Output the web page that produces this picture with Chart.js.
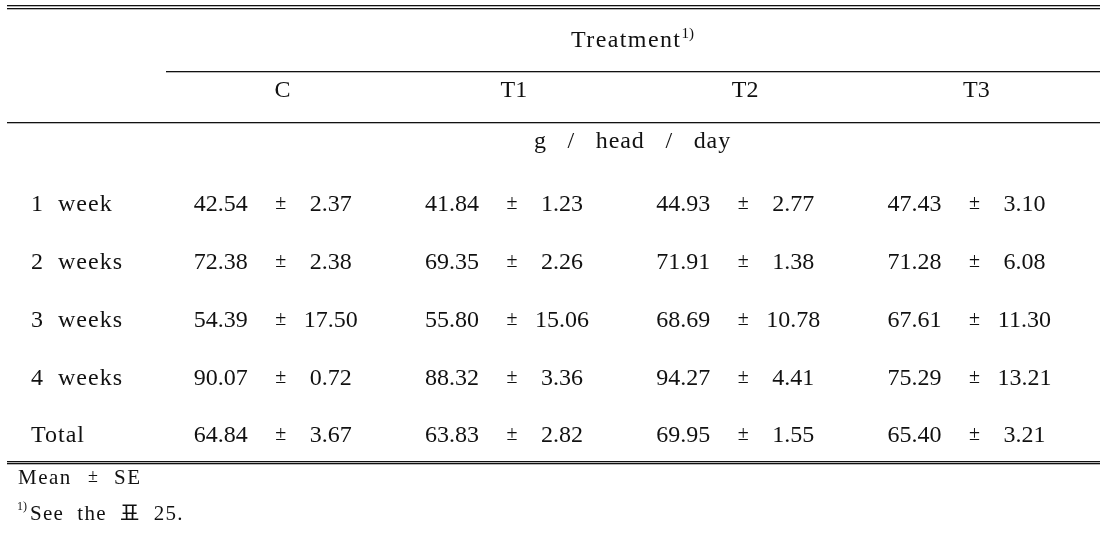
<!DOCTYPE html>
<html><head><meta charset="utf-8">
<script src="https://cdn.jsdelivr.net/npm/chart.js@4/dist/chart.umd.min.js"></script>
<style>html,body{margin:0;padding:0;background:#fff;overflow:hidden}#wrap{width:1111px;height:541px;position:relative}</style>
</head><body><div id="wrap"><canvas id="c" width="1111" height="541"></canvas></div>
<script>
// ---- data ----
const treatments = ['C', 'T1', 'T2', 'T3'];
const periods = ['1  week', '2  weeks', '3  weeks', '4  weeks', 'Total'];
const meanC  = [42.54, 72.38, 54.39, 90.07, 64.84];
const seC    = [2.37, 2.38, 17.50, 0.72, 3.67];
const meanT1 = [41.84, 69.35, 55.80, 88.32, 63.83];
const seT1   = [1.23, 2.26, 15.06, 3.36, 2.82];
const meanT2 = [44.93, 71.91, 68.69, 94.27, 69.95];
const seT2   = [2.77, 1.38, 10.78, 4.41, 1.55];
const meanT3 = [47.43, 71.28, 67.61, 75.29, 65.40];
const seT3   = [3.10, 6.08, 11.30, 13.21, 3.21];
const headerTitle = 'Treatment';
const unitLabel = 'g   /   head   /   day';
const noteSE = 'Mean';
const noteRef = 'See  the  표  25.';

const means = [meanC, meanT1, meanT2, meanT3];
const ses = [seC, seT1, seT2, seT3];

// ---- layout (row units on the y scale; px offsets on x) ----
const SERIF = '"Liberation Serif", "Times New Roman", "Noto Sans CJK KR", serif';
const L = {
  tableLeft: 7, tableRight: 1100,
  rule1: -3.43, rule2: -3.375, ruleTreat: -2.285, ruleHead: -1.398, ruleBot1: 4.475, ruleBot2: 4.51,
  treatBase: -2.70, colBase: -1.835, unitBase: -0.955, rowBaseOff: 8.5,
  noteBase1: 4.87, noteBase2: 5.49,
  meanOff: -60, seOff: 50, labelX: 31
};

const tablePlugin = {
  id: 'tablePlugin',
  afterDraw(chart) {
    const ctx = chart.ctx, xs = chart.scales.x, ys = chart.scales.y;
    const Y = v => ys.getPixelForValue(v);
    ctx.save();
    ctx.fillStyle = '#111';
    const rule = (v, x0, x1) => ctx.fillRect(x0, Math.round(Y(v)), x1 - x0, 1.3);
    rule(L.rule1, L.tableLeft, L.tableRight);
    rule(L.rule2, L.tableLeft, L.tableRight);
    rule(L.ruleTreat, xs.left + 1, L.tableRight);
    rule(L.ruleHead, L.tableLeft, L.tableRight);
    rule(L.ruleBot1, L.tableLeft, L.tableRight);
    rule(L.ruleBot2, L.tableLeft, L.tableRight);

    ctx.textBaseline = 'alphabetic';
    // Treatment header with superscript
    ctx.font = '24px ' + SERIF;
    ctx.letterSpacing = '1.4px';
    const tw = ctx.measureText(headerTitle).width;
    ctx.font = '15px ' + SERIF;
    ctx.letterSpacing = '0px';
    const sw = ctx.measureText('1)').width;
    const cx = (xs.left + L.tableRight) / 2;
    let x0 = cx - (tw + sw) / 2;
    ctx.textAlign = 'left';
    ctx.font = '24px ' + SERIF;
    ctx.letterSpacing = '1.4px';
    ctx.fillText(headerTitle, x0, Y(L.treatBase));
    ctx.letterSpacing = '0px';
    ctx.font = '15px ' + SERIF;
    ctx.fillText('1)', x0 + tw, Y(L.treatBase) - 9);

    // column headers
    ctx.font = '24px ' + SERIF;
    ctx.textAlign = 'center';
    treatments.forEach((t, i) => {
      ctx.fillText(t, xs.getPixelForValue(i) + 2, Y(L.colBase));
    });
    // unit row
    ctx.letterSpacing = '0.9px';
    ctx.fillText(unitLabel, cx, Y(L.unitBase));

    // body
    periods.forEach((p, r) => {
      const yb = Y(r) + L.rowBaseOff;
      ctx.textAlign = 'left';
      ctx.letterSpacing = '1px';
      ctx.font = '24px ' + SERIF;
      ctx.fillText(p, L.labelX, yb);
      ctx.letterSpacing = '0px';
      treatments.forEach((t, c) => {
        const xc = xs.getPixelForValue(c);
        ctx.textAlign = 'center';
        ctx.font = '24px ' + SERIF;
        ctx.fillText(means[c][r].toFixed(2), xc + L.meanOff, yb);
        ctx.fillText(ses[c][r].toFixed(2), xc + L.seOff, yb);
        ctx.font = '20px ' + SERIF;
        ctx.fillText('±', xc, yb - 2);
      });
    });

    // notes
    ctx.textAlign = 'left';
    ctx.font = '21px ' + SERIF;
    ctx.letterSpacing = '1.5px';
    ctx.fillText(noteSE, 18, Y(L.noteBase1));
    ctx.letterSpacing = '0px';
    ctx.font = '18px ' + SERIF;
    ctx.fillText('±', 88, Y(L.noteBase1) - 2);
    ctx.font = '21px ' + SERIF;
    ctx.letterSpacing = '1.5px';
    ctx.fillText('SE', 114, Y(L.noteBase1));
    ctx.letterSpacing = '0px';
    ctx.font = '12px ' + SERIF;
    ctx.fillText('1)', 17, Y(L.noteBase2) - 10);
    ctx.font = '21px ' + SERIF;
    ctx.letterSpacing = '1.3px';
    ctx.fillText(noteRef, 30, Y(L.noteBase2));
    ctx.restore();
  }
};

const datasets = treatments.map((t, c) => ({
  label: t,
  data: periods.map((p, r) => ({ x: t, y: r })),
  pointRadius: 0,
  showLine: false
}));

new Chart(document.getElementById('c'), {
  type: 'scatter',
  data: { labels: treatments, datasets },
  options: {
    responsive: false,
    animation: false,
    events: [],
    layout: { padding: { left: 165, right: 21, top: 0, bottom: 0 } },
    plugins: { legend: { display: false }, tooltip: { enabled: false } },
    scales: {
      x: { type: 'category', labels: treatments, offset: true, display: false },
      y: { type: 'linear', reverse: true, min: -3.515, max: 5.853, display: false }
    }
  },
  plugins: [tablePlugin]
});
</script>
</body></html>
